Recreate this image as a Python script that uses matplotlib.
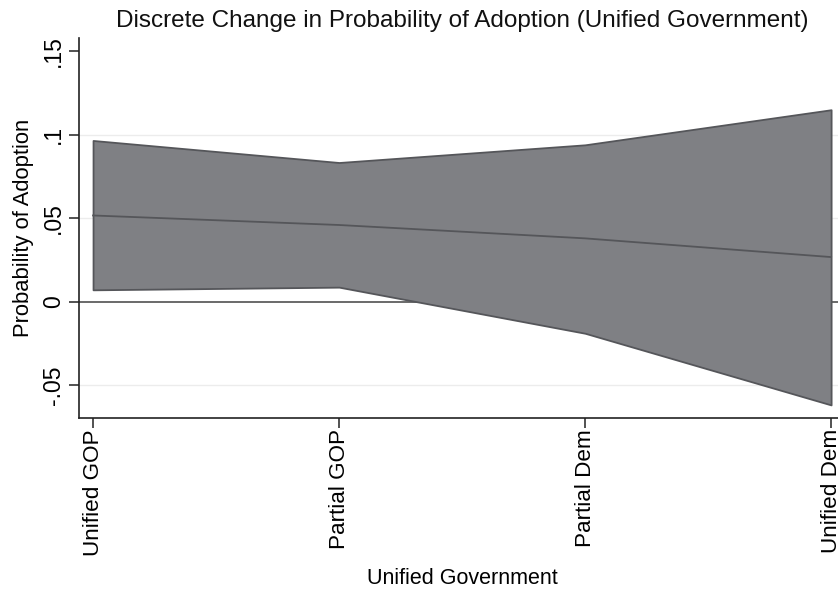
import matplotlib
matplotlib.use("Agg")
import matplotlib.pyplot as plt

plt.rcParams['font.family'] = ['Liberation Sans', 'DejaVu Sans']

categories = ["Unified GOP", "Partial GOP", "Partial Dem", "Unified Dem"]
upper = [0.0966, 0.0834, 0.0940, 0.1150]
estimate = [0.0517, 0.0460, 0.0380, 0.0268]
lower = [0.0072, 0.0088, -0.0188, -0.0617]
yticks = [-0.05, 0, 0.05, 0.1, 0.15]
ytick_labels = ["-.05", "0", ".05", ".1", ".15"]
grid_levels = [-0.05, 0.05, 0.1]

fig = plt.figure(figsize=(8.38, 5.92), dpi=100)
ax = fig.add_axes([0.0943, 0.294, 0.9057, 0.642])

x = list(range(len(categories)))
for yv in grid_levels:
    ax.axhline(yv, color='#ececec', lw=1.0, zorder=0)
ax.axhline(0, color='#505050', lw=1.2, zorder=1)
ax.fill_between(x, lower, upper, facecolor='#7f8084', edgecolor='#55565a', lw=1.3, zorder=2)
ax.plot(x, estimate, color='#55565a', lw=1.3, zorder=3)

ax.set_xlim(-0.057, 3.028)
ax.set_ylim(-0.0695, 0.158)
ax.set_xticks(x)
ax.set_xticklabels(categories, rotation=90, fontsize=16.2)
ax.set_yticks(yticks)
ax.set_yticklabels(ytick_labels, rotation=90, fontsize=16.5, va='center')
ax.tick_params(axis='both', length=7, width=1.1, color='#222222', pad=3)
ax.tick_params(axis='x', pad=1)
for s in ['top', 'right']:
    ax.spines[s].set_visible(False)
for s in ['left', 'bottom']:
    ax.spines[s].set_linewidth(1.2)
    ax.spines[s].set_color('#222222')

ax.set_ylabel("Probability of Adoption", fontsize=15.8, labelpad=6)
ax.set_xlabel("Unified Government", fontsize=15.5)
ax.xaxis.set_label_coords(462 / 838 / 0.9057 - 0.0943 / 0.9057, -(579 - 418) / (592 * 0.642))
ax.xaxis.label.set_va('center')
fig.text(0.552, 0.964, "Discrete Change in Probability of Adoption (Unified Government)",
         ha='center', va='center', fontsize=17.5, color='#111111')

fig.savefig("out.png", dpi=100)
